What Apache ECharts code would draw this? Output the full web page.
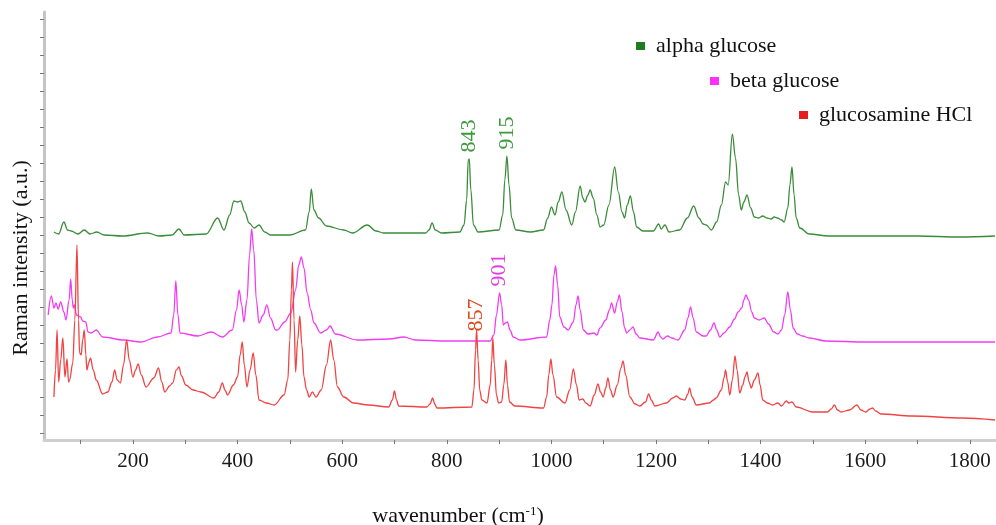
<!DOCTYPE html>
<html>
<head>
<meta charset="utf-8">
<script src="https://cdn.jsdelivr.net/npm/echarts@6/dist/echarts.min.js"></script>
<style>
  html, body { margin: 0; padding: 0; background: #fff; }
  #chart { width: 996px; height: 525px; }
</style>
</head>
<body>
<div id="chart"></div>
<script>
// Raman spectra, [wavenumber, intensity a.u.]
const alphaGlucose = [
  [49,208],[58,206],[68,218],[75,210],[82,209],[95,206],[107,210],[118,206],[131,208],[145,205],[180,204],[228,207],[250,204],[275,205],[288,211],[298,205],
  [340,206],[362,222],[374,210],[385,225],[393,239],[400,238],[406,239],[414,228],[422,217],[432,212],[441,215],[452,208],[463,205],[500,205],[530,210],[537,228],
  [541,251],[546,230],[555,222],[570,214],[603,210],[620,207],[648,215],[665,209],[679,207],[760,207],[766,210],[772,217],[778,210],[790,207],[825,208],[833,215],
  [838,240],[841,280],[843,281],[846,250],[851,215],[860,208],[900,210],[907,225],[911,260],[915,284],[919,255],[924,222],[932,210],[960,208],[985,210],[993,222],
  [1000,233],[1007,225],[1013,238],[1020,248],[1028,230],[1039,215],[1046,228],[1055,254],[1060,242],[1064,238],[1070,245],[1074,250],[1080,242],[1087,225],
  [1093,213],[1100,215],[1110,235],[1121,273],[1128,248],[1135,228],[1140,222],[1145,235],[1151,244],[1157,228],[1163,213],[1175,209],[1195,209],[1205,216],
  [1210,211],[1217,215],[1225,208],[1245,210],[1260,222],[1272,234],[1282,222],[1290,216],[1296,215],[1306,210],[1316,218],[1325,235],[1333,258],[1338,255],
  [1346,306],[1352,282],[1358,245],[1363,230],[1368,238],[1374,245],[1381,232],[1388,223],[1396,222],[1404,224],[1412,222],[1420,221],[1426,223],[1432,222],
  [1440,220],[1445,218],[1452,232],[1456,255],[1460,273],[1464,245],[1468,222],[1475,212],[1493,206],[1530,204],[1600,204],[1700,204],[1780,203],[1848,204]
];
const betaGlucose = [
  [38,125],[44,144],[49,132],[53,137],[57,131],[62,138],[68,128],[72,120],[78,140],[81,161],[84,140],[86,132],[88,135],[92,125],[100,123],[104,119],[110,118],
  [114,108],[120,107],[130,110],[142,103],[183,100],[215,98],[247,103],[273,107],[278,125],[282,159],[286,125],[290,107],[324,104],[350,108],[371,103],[390,110],
  [398,130],[403,150],[408,135],[412,118],[418,140],[423,185],[427,211],[431,190],[436,140],[441,117],[449,125],[456,135],[463,122],[473,110],[476,110],[490,118],
  [502,127],[511,150],[517,175],[522,183],[527,172],[533,147],[540,130],[546,117],[559,107],[570,110],[577,114],[587,106],[629,100],[690,101],[718,103],[740,100],
  [800,99],[883,99],[890,105],[895,125],[901,147],[905,135],[908,115],[912,117],[916,118],[921,110],[927,103],[940,100],[991,103],[997,120],[1001,135],[1005,165],
  [1008,174],[1012,155],[1016,123],[1024,113],[1032,110],[1042,118],[1047,135],[1051,144],[1055,130],[1061,110],[1070,106],[1081,107],[1087,105],[1093,112],
  [1104,120],[1111,130],[1115,137],[1121,127],[1126,138],[1130,145],[1135,128],[1140,112],[1144,107],[1150,110],[1156,113],[1162,106],[1169,102],[1195,100],
  [1204,108],[1209,103],[1213,101],[1222,104],[1230,102],[1242,100],[1255,110],[1261,122],[1266,133],[1271,122],[1277,108],[1290,104],[1296,104],[1304,110],
  [1311,117],[1316,110],[1322,103],[1330,107],[1341,113],[1350,121],[1357,128],[1364,132],[1368,140],[1372,145],[1377,140],[1383,128],[1388,122],[1397,120],
  [1407,122],[1415,116],[1425,108],[1433,106],[1440,110],[1446,125],[1452,148],[1457,130],[1462,112],[1470,106],[1480,104],[1493,102],[1525,99],[1600,98],
  [1700,98],[1848,98]
];
const glucosamineHCl = [
  [49,43],[52,70],[55,110],[58,58],[62,80],[66,102],[70,63],[74,81],[77,58],[79,60],[85,77],[89,120],[93,195],[96,120],[98,87],[101,85],[104,100],[107,110],
  [110,85],[112,70],[116,78],[119,82],[124,70],[130,60],[142,46],[152,48],[160,58],[165,70],[170,60],[176,57],[182,75],[188,100],[193,80],[200,63],[205,70],
  [210,76],[216,65],[225,53],[240,62],[249,72],[255,58],[261,48],[270,54],[276,57],[283,70],[288,73],[293,64],[301,55],[315,50],[330,48],[355,42],[364,48],
  [371,57],[376,50],[381,45],[392,55],[400,63],[405,85],[409,98],[413,75],[418,53],[424,70],[430,87],[435,65],[441,40],[455,37],[470,35],[489,45],[496,60],
  [500,100],[503,150],[505,178],[508,120],[511,68],[515,100],[519,124],[523,95],[527,63],[532,50],[537,43],[543,48],[550,43],[560,50],[570,75],[578,100],
  [584,80],[591,53],[603,43],[622,37],[650,35],[689,33],[696,40],[700,49],[704,40],[708,34],[762,33],[768,36],[773,42],[777,36],[781,32],[848,33],[852,50],
  [855,90],[857,110],[860,80],[863,50],[867,40],[877,37],[883,55],[886,80],[888,102],[891,75],[895,45],[899,37],[905,38],[909,55],[913,80],[916,55],[920,38],
  [930,34],[985,32],[991,43],[995,65],[999,81],[1003,65],[1010,43],[1026,37],[1035,50],[1042,71],[1048,55],[1053,40],[1060,41],[1066,37],[1074,34],[1082,45],
  [1089,56],[1094,48],[1099,43],[1104,52],[1108,62],[1113,50],[1118,43],[1126,55],[1133,72],[1137,79],[1142,65],[1150,43],[1160,36],[1169,34],[1180,38],
  [1186,46],[1191,40],[1198,34],[1220,37],[1232,42],[1239,44],[1247,41],[1255,40],[1261,46],[1264,52],[1269,43],[1277,35],[1302,37],[1310,40],[1315,42],
  [1325,50],[1330,62],[1333,70],[1337,58],[1341,45],[1346,60],[1351,84],[1355,70],[1360,47],[1366,55],[1370,63],[1374,68],[1378,58],[1382,52],[1388,60],
  [1395,67],[1399,55],[1404,40],[1413,37],[1423,35],[1433,37],[1440,34],[1449,39],[1454,37],[1460,38],[1468,33],[1500,28],[1528,28],[1535,31],[1541,35],
  [1547,30],[1554,28],[1570,30],[1584,35],[1592,30],[1601,28],[1609,31],[1614,32],[1620,29],[1630,26],[1690,24],[1786,22],[1848,20]
];

const seriesNames = ['alpha glucose', 'beta glucose', 'glucosamine HCl'];
const xLabelValues = [200, 400, 600, 800, 1000, 1200, 1400, 1600, 1800];
const xTickValues = [100, 200, 300, 400, 500, 600, 700, 800, 900, 1000, 1100, 1200, 1300, 1400, 1500, 1600, 1700, 1800];
const yTickValues = [7, 25, 43, 61, 79, 97, 115, 133, 151, 169, 187, 205, 223, 241, 259, 277, 295, 313, 331, 349, 367, 385, 403, 421];
// peak labels: [wavenumber, intensity]
const alphaPeaks = [[843, 281], [915, 284]];
const betaPeaks = [[901, 147]];
const glcnPeaks = [[857, 110]];

const serif = '"Liberation Serif", "DejaVu Serif", serif';
const cGreen = '#3a8c3a', cMagenta = '#f23cf2', cRed = '#f04343';
const legendColors = ['#1d7d1d', '#ff30ff', '#e81e1e'];

const peakLabel = (peaks, color, dx) => ({
  symbol: 'circle',
  symbolSize: 1,
  itemStyle: { color: 'rgba(0,0,0,0)' },
  label: {
    show: true, formatter: '{b}', rotate: 90, position: 'top', distance: 6,
    align: 'left', verticalAlign: 'middle', offset: [dx, 0],
    color: color, fontFamily: serif, fontSize: 22
  },
  data: peaks.map(p => ({ name: String(p[0]), coord: p }))
});

const chart = echarts.init(document.getElementById('chart'));

// one legend per entry so they sit staggered like the original
const legendBase = {
  orient: 'vertical', icon: 'rect', itemWidth: 9, itemHeight: 8,
  textStyle: { fontFamily: serif, fontSize: 22, color: '#111', padding: [0, 0, 0, 6] }
};
const legendItem = i => ({ name: seriesNames[i], itemStyle: { color: legendColors[i] } });

const lineSeries = (name, data, color) => ({
  name, type: 'line', data, showSymbol: false, color,
  smooth: 0.35, smoothMonotone: 'x',
  lineStyle: { width: 1.3 }
});

chart.setOption({
  animation: false,
  backgroundColor: '#fff',
  grid: { left: 44, right: 0, top: 12, bottom: 85 },
  legend: [
    Object.assign({}, legendBase, { left: 631, top: 30, data: [legendItem(0)] }),
    Object.assign({}, legendBase, { left: 705, top: 65, data: [legendItem(1)] }),
    Object.assign({}, legendBase, { left: 794, top: 99, data: [legendItem(2)] })
  ],
  xAxis: {
    type: 'value', min: 30, max: 1850,
    splitLine: { show: false },
    axisLine: { lineStyle: { color: '#cfcfcf', width: 3 } },
    axisTick: { customValues: xTickValues, length: 4, lineStyle: { color: '#777' } },
    axisLabel: {
      customValues: xLabelValues, margin: 11, fontFamily: serif, fontSize: 21, color: '#1a1a1a',
      formatter: v => String(v)
    }
  },
  yAxis: {
    type: 'value', min: 0, max: 428,
    splitLine: { show: false },
    axisLine: { show: true, lineStyle: { color: '#c4c4c4', width: 3 } },
    axisTick: { customValues: yTickValues, length: 4, lineStyle: { color: '#777' } },
    axisLabel: { show: false }
  },
  graphic: [
    {
      type: 'text', x: 21, y: 258, rotation: Math.PI / 2,
      style: { text: 'Raman intensity (a.u.)', font: '22px ' + serif, fill: '#111', align: 'center', verticalAlign: 'middle' }
    },
    {
      type: 'text', x: 458, y: 516,
      style: {
        text: 'wavenumber (cm{sup|-1})', font: '22px ' + serif, fill: '#111', align: 'center', verticalAlign: 'middle',
        rich: { sup: { fontSize: 13, fontFamily: serif, verticalAlign: 'top', padding: [0, 0, 8, 0] } }
      }
    }
  ],
  series: [
    Object.assign(lineSeries(seriesNames[0], alphaGlucose, cGreen), { markPoint: peakLabel(alphaPeaks, '#3c9a3c', 0) }),
    Object.assign(lineSeries(seriesNames[1], betaGlucose, cMagenta), { markPoint: peakLabel(betaPeaks, '#e03ee0', 0) }),
    Object.assign(lineSeries(seriesNames[2], glucosamineHCl, cRed), { markPoint: peakLabel(glcnPeaks, '#dd4a1e', -8) })
  ]
});
</script>
</body>
</html>
